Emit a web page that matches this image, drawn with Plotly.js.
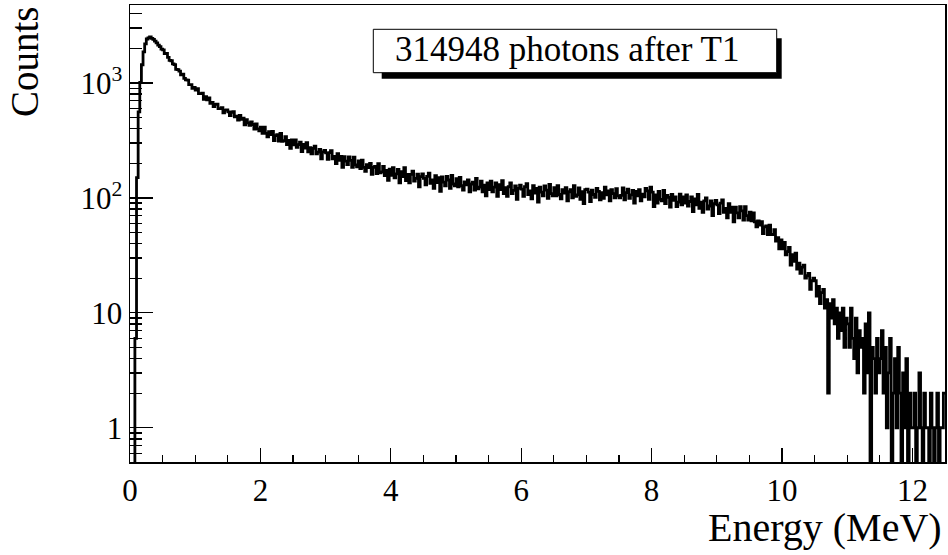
<!DOCTYPE html>
<html>
<head>
<meta charset="utf-8">
<script src="https://cdn.plot.ly/plotly-3.0.1.min.js"></script>
<style>html,body{margin:0;padding:0;background:#fff}#chart{width:948px;height:555px}</style>
</head>
<body>
<div id="chart"></div>
<script>
// Histogram: bin width 0.025 MeV starting at 0 MeV (500 bins to 12.5 MeV)
const binWidth = 0.025;
const binStart = 0;
const counts = [
  0, 0, 0, 6, 150, 560, 1010, 1440, 1860, 2190, 2410, 2470, 2510, 2440, 2390, 2310, 2230, 2130, 2070, 1970,
  1938, 1803, 1803, 1667, 1570, 1559, 1466, 1442, 1310, 1307, 1269, 1176, 1190, 1096, 1065, 1056, 968, 967, 895, 916,
  866, 893, 807, 808, 813, 720, 758, 714, 742, 663, 676, 623, 651, 654, 597, 598, 609, 548, 579, 584,
  561, 520, 556, 562, 507, 515, 474, 521, 481, 494, 432, 479, 450, 427, 458, 435, 397, 439, 398, 383,
  413, 365, 413, 364, 339, 377, 355, 378, 315, 348, 354, 312, 364, 311, 315, 341, 290, 316, 270, 319,
  289, 320, 275, 291, 305, 253, 292, 271, 303, 252, 273, 241, 270, 282, 242, 250, 264, 219, 251, 259,
  246, 216, 248, 258, 219, 229, 199, 243, 212, 229, 184, 228, 209, 195, 227, 212, 184, 226, 194, 186,
  210, 180, 213, 184, 170, 195, 183, 199, 160, 184, 188, 163, 198, 165, 168, 188, 156, 173, 142, 178,
  157, 183, 149, 162, 177, 135, 169, 153, 183, 141, 160, 135, 160, 171, 140, 148, 161, 125, 153, 162,
  148, 130, 154, 164, 134, 143, 121, 156, 136, 150, 114, 152, 137, 127, 154, 143, 121, 157, 132, 127,
  147, 125, 151, 128, 117, 138, 130, 143, 113, 132, 137, 117, 148, 120, 124, 140, 113, 129, 104, 135,
  118, 140, 113, 124, 135, 103, 130, 118, 141, 109, 123, 103, 125, 135, 109, 116, 127, 97, 121, 129,
  119, 103, 125, 133, 107, 115, 98, 128, 110, 121, 92, 124, 112, 104, 127, 117, 99, 131, 109, 104,
  123, 104, 128, 107, 98, 118, 110, 123, 94, 113, 118, 100, 128, 103, 106, 122, 97, 113, 89, 118,
  119, 112, 93, 117, 107, 101, 121, 114, 96, 111, 99, 124, 106, 115, 94, 118, 109, 100, 120, 104,
  100, 105, 122, 96, 111, 119, 99, 106, 116, 90, 114, 104, 118, 94, 108, 102, 121, 115, 97, 124,
  112, 84, 106, 90, 114, 97, 94, 116, 89, 105, 101, 83, 107, 95, 102, 84, 92, 108, 87, 102,
  90, 106, 85, 93, 102, 76, 98, 87, 107, 81, 92, 75, 94, 100, 80, 85, 94, 70, 89, 95,
  87, 73, 90, 96, 75, 81, 67, 89, 75, 83, 62, 83, 74, 67, 84, 77, 64, 84, 70, 64,
  75, 63, 74, 62, 56, 63, 58, 62, 49, 56, 57, 48, 58, 48, 48, 53, 42, 45, 36, 43,
  36, 41, 32, 34, 37, 26, 32, 28, 33, 24, 27, 22, 25, 26, 20, 21, 22, 16, 19, 20,
  19, 14, 17, 12, 15, 16, 11, 13, 2, 12, 9, 13, 8, 11, 6, 10, 7, 11, 5, 9,
  8, 5, 11, 6, 4, 9, 3, 7, 5, 6, 2, 8, 3, 10, 0, 5, 4, 2, 6, 3,
  4, 7, 2, 5, 1, 3, 6, 0, 2, 4, 1, 5, 2, 0, 3, 1, 4, 0, 2, 1,
  1, 2, 0, 1, 3, 1, 0, 2, 1, 1, 0, 2, 1, 0, 1, 2, 0, 1, 1, 2
];

const xTickVals = [0, 2, 4, 6, 8, 10, 12];
const xTickText = ['0', '2', '4', '6', '8', '10', '12'];
const yTickVals = [1, 10, 100, 1000];
const yTickText = ['1', '10', '10<sup>2</sup>', '10<sup>3</sup>'];
const yMinorVals = [0.6, 0.7, 0.8, 0.9, 2, 3, 4, 5, 6, 7, 8, 9, 20, 30, 40, 50, 60, 70, 80, 90,
                    200, 300, 400, 500, 600, 700, 800, 900, 2000, 3000, 4000];
const legendText = '314948 photons after T1';
const xTitle = 'Energy (MeV)';
const yTitle = 'Counts';

// Step-line points from bin edges; empty bins drawn at the frame bottom like ROOT
const zeroFloor = 0.1;
const xs = [], ys = [];
counts.forEach((c, i) => { xs.push(binStart + i * binWidth); ys.push(c > 0 ? c : zeroFloor); });
xs.push(binStart + counts.length * binWidth);
ys.push(counts[counts.length - 1] > 0 ? counts[counts.length - 1] : zeroFloor);

const trace = {
  x: xs, y: ys, type: 'scatter', mode: 'lines',
  line: {shape: 'hv', color: 'black', width: 2.8},
  hoverinfo: 'skip'
};

const L = 130, R = 945, T = 5, B = 462;
const px = v => (v - L) / (R - L);
const py = v => (B - v) / (B - T);

const layout = {
  width: 948, height: 555,
  margin: {l: L, r: 948 - R, t: T, b: 555 - B, pad: 0},
  paper_bgcolor: 'white', plot_bgcolor: 'white',
  font: {family: 'Liberation Serif, Times New Roman, serif', color: 'black', size: 31},
  showlegend: false,
  xaxis: {
    range: [0, 12.5], tickmode: 'array', tickvals: xTickVals, ticktext: xTickText,
    ticks: 'inside', ticklen: 14, tickwidth: 1.3, tickcolor: 'black',
    minor: {ticks: 'inside', ticklen: 7, dtick: 0.5, tick0: 0, tickwidth: 1.3, tickcolor: 'black'},
    showline: true, linecolor: 'black', linewidth: 1.5, mirror: true,
    showgrid: false, zeroline: false, tickfont: {size: 31}
  },
  yaxis: {
    type: 'log', range: [-0.298, 3.678], tickmode: 'array', tickvals: yTickVals, ticktext: yTickText,
    ticks: 'inside', ticklen: 23, tickwidth: 1.3, tickcolor: 'black',
    minor: {tickmode: 'array', tickvals: yMinorVals, ticks: 'inside', ticklen: 12, tickwidth: 1.3, tickcolor: 'black'},
    showline: true, linecolor: 'black', linewidth: 1.5, mirror: true,
    showgrid: false, zeroline: false, tickfont: {size: 31}
  },
  shapes: [
    {type: 'rect', xref: 'paper', yref: 'paper', x0: px(381.7), x1: px(781.7), y0: py(78.7), y1: py(38.3),
     fillcolor: 'black', line: {width: 0}},
    {type: 'rect', xref: 'paper', yref: 'paper', x0: px(373.3), x1: px(776.7), y0: py(72.7), y1: py(29.3),
     fillcolor: 'white', line: {color: 'black', width: 1}}
  ],
  annotations: [
    {text: legendText, xref: 'paper', yref: 'paper', x: px(393), y: py(50), xanchor: 'left', yanchor: 'middle',
     showarrow: false, font: {size: 35}},
    {text: xTitle, xref: 'paper', yref: 'paper', x: px(944), y: py(527), xanchor: 'right', yanchor: 'middle',
     showarrow: false, font: {size: 40}},
    {text: yTitle, xref: 'paper', yref: 'paper', x: px(24), y: py(62), xanchor: 'center', yanchor: 'middle',
     textangle: -90, showarrow: false, font: {size: 39}}
  ]
};

Plotly.newPlot('chart', [trace], layout, {staticPlot: true, displayModeBar: false});
</script>
</body>
</html>
